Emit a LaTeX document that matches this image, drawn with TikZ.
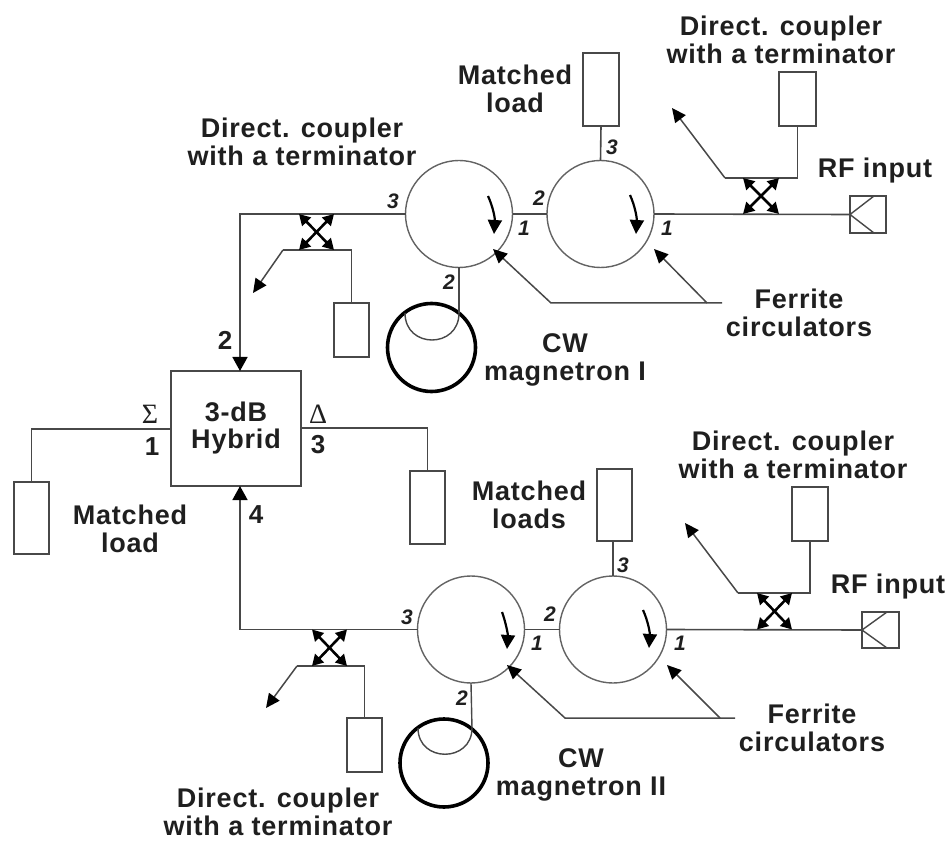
\documentclass[tikz,border=0pt]{standalone}
\usepackage{fontspec}
\setmainfont[LetterSpace=3]{Liberation Sans}
\newfontfamily\serifgr{Liberation Serif}
\usetikzlibrary{arrows.meta}
\definecolor{ln}{HTML}{484848}
\tikzset{
  x=1pt,y=-1pt,
  wire/.style={draw=ln,line width=1.6pt},
  thin wire/.style={draw=ln,line width=1.4pt},
  boxn/.style={draw=ln,line width=1.5pt,fill=white,inner sep=0,outer sep=0},
  circ/.style={circle,draw=ln!85,line width=1.4pt,inner sep=0,outer sep=0,minimum size=107pt},
  magn/.style={circle,draw=black,line width=3.6pt,inner sep=0,outer sep=0,minimum size=88pt},
  lbl/.style={font=\fontsize{27}{28.5}\selectfont\bfseries,align=center,text=black!88,inner sep=0},
  num/.style={font=\fontsize{21}{22}\selectfont\bfseries\itshape,text=black!88,inner sep=0},
  big/.style={font=\fontsize{26}{28}\selectfont\bfseries,text=black!88,inner sep=0},
  gr/.style={font=\fontsize{28}{28}\selectfont\serifgr,text=black!88,inner sep=0},
  xarr/.style={draw=black,line width=2.6pt,{Triangle[length=11pt,width=12pt]}-{Triangle[length=11pt,width=12pt]}},
  arr/.style={draw=ln,line width=1.5pt,-{Triangle[length=14pt,width=13pt,color=black]}},
  bigarr/.style={draw=ln,line width=1.6pt,-{Triangle[length=14pt,width=15pt,color=black]}},
  turn/.style={draw=black,line width=2.2pt,-{Triangle[length=14pt,width=14pt]}},
}
\begin{document}
\begin{tikzpicture}
\useasboundingbox (0,0) rectangle (948,842);
% Hybrid
\node[boxn,minimum width=130pt,minimum height=115pt,lbl] (hy) at (236,428.5) {3-dB\\[-1.5pt]Hybrid};
\coordinate (h2) at (240,371);
\coordinate (h4) at (240,486);
\coordinate (hL) at (171,429);
\coordinate (hR) at (301,428);
% loads around the hybrid
\node[boxn,minimum width=35pt,minimum height=72pt] (lL) at (31.5,518) {};
\node[boxn,minimum width=35pt,minimum height=73pt] (lR) at (427.5,507.5) {};
\draw[wire] (hL) -| (lL.north);
\draw[wire] (hR) -| (lR.north);
% ---------- upper branch
\node[circ] (cA) at (459,214) {};
\node[circ] (cB) at (600.5,214) {};
\node[boxn,minimum width=36pt,minimum height=73pt] (lB) at (601,89.5) {};
\node[boxn,minimum width=37pt,minimum height=54pt] (lC) at (797.5,99) {};
\node[boxn,minimum width=35pt,minimum height=54pt] (lD) at (351.5,330) {};
\node[boxn,minimum width=36pt,minimum height=37pt] (rf1) at (868,214.5) {};
\node[magn] (mI) at (431.5,347.5) {};
\coordinate (mIa) at (405,313);
\coordinate (mIb) at (459,313);
\draw[thin wire] (mIa) .. controls (405,349) and (459,349) .. (mIb);
\draw[thin wire] (cA.south) -- (mIb);
\draw[wire] (cA.east) -- (cB.west);
\draw[wire] (cB.north) -- (lB.south);
\draw[wire] (cB.east) -- (rf1.west);
\coordinate (rf1a) at (874,196);
\coordinate (rf1b) at (874,233);
\draw[thin wire] (rf1a) -- (rf1.west) -- (rf1b);
\draw[bigarr] (cA.west) -| (h2);
% right coupler upper
\coordinate (k1a) at (725,178);
\coordinate (k1b) at (672,108);
\coordinate (k1c) at (743,178);
\coordinate (k1d) at (779,178);
\coordinate (k1e) at (743,214);
\coordinate (k1f) at (779,214);
\draw[wire] (k1a) -| (lC.south);
\draw[arr] (k1a) -- (k1b);
\draw[xarr] (k1c) -- (k1f);
\draw[xarr] (k1d) -- (k1e);
% left coupler upper
\coordinate (k2a) at (283,250);
\coordinate (k2b) at (253,293);
\coordinate (k2c) at (299,214);
\coordinate (k2d) at (334,214);
\coordinate (k2e) at (299,250);
\coordinate (k2f) at (334,250);
\draw[wire] (k2a) -| (lD.north);
\draw[arr] (k2a) -- (k2b);
\draw[xarr] (k2c) -- (k2f);
\draw[xarr] (k2d) -- (k2e);
% turn arrows upper
\coordinate (tA1) at (488,196);
\coordinate (tA2) at (494,234);
\draw[turn] (tA1) .. controls (493,207) and (495,218) .. (tA2);
\coordinate (tB1) at (630,195);
\coordinate (tB2) at (636,234);
\draw[turn] (tB1) .. controls (635,206) and (637,218) .. (tB2);
% ferrite pointers upper
\coordinate (fAe) at (722,303);
\coordinate (fA) at (707,303);
\coordinate (fAm) at (551,303);
\coordinate (fAh) at (493,249);
\coordinate (fBh) at (654,249);
\draw[arr] (fAe) -- (fAm) -- (fAh);
\draw[arr] (fA) -- (fBh);
% ---------- lower branch
\node[circ] (cC) at (471,629.5) {};
\node[circ] (cD) at (613,629.5) {};
\node[boxn,minimum width=35pt,minimum height=72pt] (lE) at (614.5,505) {};
\node[boxn,minimum width=36pt,minimum height=54pt] (lF) at (810,514) {};
\node[boxn,minimum width=35pt,minimum height=54pt] (lG) at (364.5,745) {};
\node[boxn,minimum width=37pt,minimum height=36pt] (rf2) at (880.5,630) {};
\node[magn] (mII) at (444,763) {};
\coordinate (mIIa) at (418,728);
\coordinate (mIIb) at (472,728);
\draw[thin wire] (mIIa) .. controls (418,763) and (472,763) .. (mIIb);
\draw[thin wire] (cC.south) -- (mIIb);
\draw[wire] (cC.east) -- (cD.west);
\draw[wire] (cD.north) -- (cD.north |- lE.south);
\draw[wire] (cD.east) -- (rf2.west);
\coordinate (rf2a) at (887,612);
\coordinate (rf2b) at (887,648);
\draw[thin wire] (rf2a) -- (rf2.west) -- (rf2b);
\draw[bigarr] (cC.west) -| (h4);
% right coupler lower
\coordinate (k3a) at (738,593);
\coordinate (k3b) at (685,523);
\coordinate (k3c) at (757,593);
\coordinate (k3d) at (792,593);
\coordinate (k3e) at (757,629.5);
\coordinate (k3f) at (792,629.5);
\draw[wire] (k3a) -| (lF.south);
\draw[arr] (k3a) -- (k3b);
\draw[xarr] (k3c) -- (k3f);
\draw[xarr] (k3d) -- (k3e);
% left coupler lower
\coordinate (k4a) at (297,666);
\coordinate (k4b) at (266,708);
\coordinate (k4c) at (312,629.5);
\coordinate (k4d) at (347,629.5);
\coordinate (k4e) at (312,666);
\coordinate (k4f) at (347,666);
\draw[wire] (k4a) -| (lG.north);
\draw[arr] (k4a) -- (k4b);
\draw[xarr] (k4c) -- (k4f);
\draw[xarr] (k4d) -- (k4e);
% turn arrows lower
\coordinate (tC1) at (502,612);
\coordinate (tC2) at (507,649);
\draw[turn] (tC1) .. controls (506,623) and (508,635) .. (tC2);
\coordinate (tD1) at (643,610);
\coordinate (tD2) at (649,648);
\draw[turn] (tD1) .. controls (648,621) and (650,633) .. (tD2);
% ferrite pointers lower
\coordinate (fCe) at (735,718);
\coordinate (fC) at (720,718);
\coordinate (fCm) at (565,718);
\coordinate (fCh) at (507,665);
\coordinate (fDh) at (667,665);
\draw[arr] (fCe) -- (fCm) -- (fCh);
\draw[arr] (fC) -- (fDh);
% ---------- labels
\node[lbl] (t1) at (302,142) {Direct. coupler\\with a terminator};
\node[lbl] (t2) at (781,40) {Direct. coupler\\with a terminator};
\node[lbl] (t3) at (515,89) {Matched\\load};
\node[lbl] (t4) at (875,171) {RF input};
\node[lbl] (t5) at (799,313) {Ferrite\\circulators};
\node[lbl] (t6) at (565,360) {CW\\magnetron I};
\node[lbl] (t7) at (130,529) {Matched\\load};
\node[lbl] (t8) at (529,505) {Matched\\loads};
\node[lbl] (t9) at (793,455) {Direct. coupler\\with a terminator};
\node[lbl] (t10) at (888,587) {RF input};
\node[lbl] (t11) at (812,728) {Ferrite\\circulators};
\node[lbl] (t12) at (581,775) {CW\\magnetron II};
\node[lbl] (t13) at (278,812) {Direct. coupler\\with a terminator};
\node[big] (n2) at (225,340) {2};
\node[big] (n1) at (152,447) {1};
\node[big] (n3) at (318,445) {3};
\node[big] (n4) at (256,515) {4};
\node[gr] (sg) at (150,414) {Σ};
\node[gr] (dl) at (318,414) {Δ};
\node[num] (a3) at (393,201) {3};
\node[num] (a1) at (524,228) {1};
\node[num] (a2) at (449,282) {2};
\node[num] (b2) at (539,198) {2};
\node[num] (b3) at (612,147) {3};
\node[num] (b1) at (667,228) {1};
\node[num] (c3) at (407,617) {3};
\node[num] (c1) at (537,643) {1};
\node[num] (c2) at (462,698) {2};
\node[num] (d2) at (550,614) {2};
\node[num] (d3) at (623,565) {3};
\node[num] (d1) at (680,643) {1};
\end{tikzpicture}
\end{document}
